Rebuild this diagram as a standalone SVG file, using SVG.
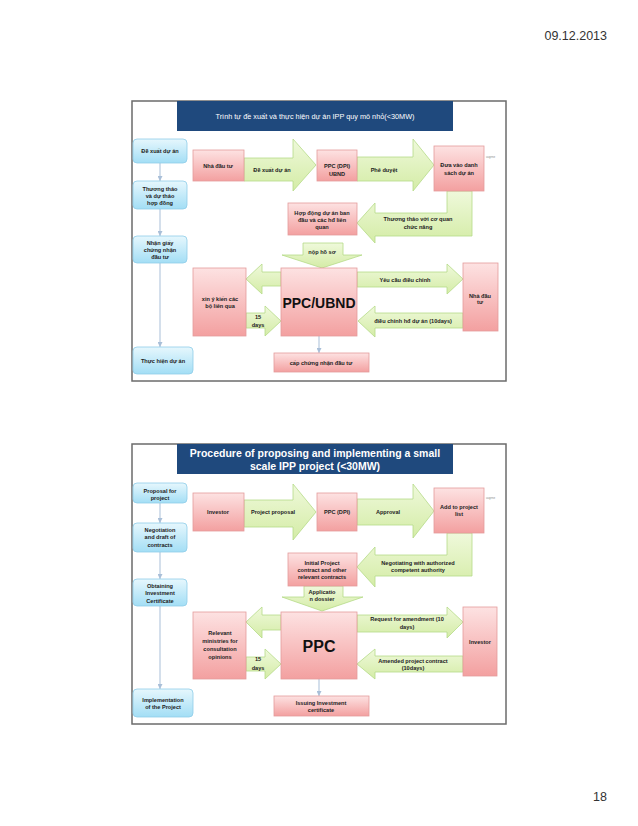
<svg xmlns="http://www.w3.org/2000/svg" width="638" height="826" viewBox="0 0 638 826">
<defs>
<linearGradient id="pink" x1="0" y1="0" x2="0" y2="1"><stop offset="0" stop-color="#fde2e2"/><stop offset="1" stop-color="#f3a0a0"/></linearGradient>
<linearGradient id="blue" x1="0" y1="0" x2="0" y2="1"><stop offset="0" stop-color="#e6f7fd"/><stop offset="1" stop-color="#a3def5"/></linearGradient>
<linearGradient id="green" x1="0" y1="0" x2="0" y2="1"><stop offset="0" stop-color="#eff9db"/><stop offset="1" stop-color="#d4eca6"/></linearGradient>
<marker id="ah" viewBox="0 0 6 6" refX="6" refY="3" markerWidth="5" markerHeight="5" orient="auto"><path d="M0,0 L6,3 L0,6 z" fill="#a9bfd8"/></marker>
<style>
.frame{fill:#fff;stroke:#6b6b6b;stroke-width:1.5}
.bar{fill:#1f497d}
.pink{fill:url(#pink);stroke:#e39c9c;stroke-width:0.8}
.blue{fill:url(#blue);stroke:#8fcde8;stroke-width:0.8}
.arr{fill:url(#green);stroke:#b5da88;stroke-width:0.8}
.ln{stroke:#a9bfd8;stroke-width:1;fill:none;marker-end:url(#ah)}
text{font-family:"Liberation Sans",Arial,sans-serif;text-anchor:middle;fill:#222}
.t{font-size:5.6px;font-weight:bold}
.tiny{font-size:3px;fill:#888;text-anchor:start}
.big{font-size:15px;font-weight:bold;fill:#111}
.hd{fill:#fff}
</style>
</defs>
<rect width="638" height="826" fill="#fff"/>
<text x="607" y="40" style="font-size:12.5px;text-anchor:end;fill:#333">09.12.2013</text>
<text x="607" y="801" style="font-size:12.5px;text-anchor:end;fill:#333">18</text>

<!-- Slide 1 -->
<g id="slide1">
<rect class="frame" x="132" y="101" width="374" height="280"/>
<rect class="bar" x="177" y="101" width="276" height="30"/>
<text class="hd" x="315" y="119" style="font-size:7.3px">Trình tự đề xuất và thực hiện dự án IPP quy mô nhỏ(&lt;30MW)</text>
</g>

<g id="connectors1">
<line class="ln" x1="160" y1="163" x2="160" y2="181"/>
<line class="ln" x1="160" y1="209" x2="160" y2="236"/>
<line class="ln" x1="160" y1="263" x2="160" y2="347"/>
<line class="ln" x1="319" y1="336" x2="319" y2="353"/>
<g id="a1-1"><polygon class="arr" points="244,158 293,158 293,139 316,165 293,191 293,181 244,181"/><text class="t" x="272" y="172">Đề xuất dự án</text></g>
<g id="a1-2"><polygon class="arr" points="357,157 413,157 413,139 434,165 413,191 413,181 357,181"/><text class="t" x="384" y="172">Phê duyệt</text></g>
<g id="a1-3"><polygon class="arr" points="447,191 472,191 472,236 375,236 375,243 357,223 375,203 375,213 447,213"/><text class="t" x="418" y="221">Thương thảo với cơ quan</text><text class="t" x="418" y="229">chức năng</text></g>
<g id="a1-4"><polygon class="arr" points="303,243 343,243 343,255 362,255 322,268 282,255 303,255"/><text class="t" x="322" y="254">nộp hồ sơ</text></g>
<g id="a1-5"><polygon class="arr" points="281,272 262,272 262,264 246,279 262,294 262,286 281,286"/></g>
<g id="a1-6"><polygon class="arr" points="246,313 265,313 265,306 281,321 265,336 265,328 246,328"/><text class="t" x="258" y="319">15</text><text class="t" x="258" y="327">days</text></g>
<g id="a1-7"><polygon class="arr" points="357,272 447,272 447,264 463,279 447,294 447,287 357,287"/><text class="t" x="405" y="282">Yêu cầu điều chỉnh</text></g>
<g id="a1-8"><polygon class="arr" points="463,313 375,313 375,306 358,321 375,337 375,328 463,328"/><text class="t" x="413" y="323">điều chỉnh hđ dự án (10days)</text></g>
</g>

<g id="n1-dexuat"><rect class="blue" x="133" y="139" width="54" height="24" rx="4"/><text class="t" x="160" y="153">Đề xuất dự án</text></g>
<g id="n1-thuongthao"><rect class="blue" x="133" y="181" width="54" height="28" rx="4"/><text class="t" x="160" y="191">Thương thảo</text><text class="t" x="160" y="198">và dự thảo</text><text class="t" x="160" y="205">hợp đồng</text></g>
<g id="n1-nhangiay"><rect class="blue" x="133" y="236" width="54" height="27" rx="4"/><text class="t" x="160" y="245">Nhận giấy</text><text class="t" x="160" y="252">chứng nhận</text><text class="t" x="160" y="259">đầu tư</text></g>
<g id="n1-thuchien"><rect class="blue" x="133" y="347" width="60" height="27" rx="4"/><text class="t" x="163" y="363">Thực hiện dự án</text></g>
<g id="n1-nhadautu"><rect class="pink" x="193" y="150" width="51" height="31"/><text class="t" x="218" y="168">Nhà đầu tư</text></g>
<g id="n1-ppcdpi"><rect class="pink" x="317" y="150" width="40" height="31"/><text class="t" x="337" y="168">PPC (DPI)</text><text class="t" x="337" y="176">UBND</text></g>
<g id="n1-duavao"><rect class="pink" x="434" y="146" width="50" height="45"/><text class="t" x="459" y="167">Đưa vào danh</text><text class="t" x="459" y="175">sách dự án</text><text class="tiny" x="486" y="158">uuyrne</text></g>
<g id="n1-hopdong"><rect class="pink" x="288" y="203" width="69" height="32"/><text class="t" x="322" y="215">Hợp động dự án ban</text><text class="t" x="322" y="222">đầu và các hđ liên</text><text class="t" x="322" y="229">quan</text></g>
<g id="n1-ppcubnd"><rect class="pink" x="281" y="268" width="76" height="68"/><text class="big" x="319" y="308" style="font-size:14px">PPC/UBND</text></g>
<g id="n1-xinykien"><rect class="pink" x="193" y="268" width="53" height="68"/><text class="t" x="220" y="301">xin ý kiến các</text><text class="t" x="220" y="308">bộ liên qua</text></g>
<g id="n1-nhadautu2"><rect class="pink" x="463" y="263" width="35" height="68"/><text class="t" x="480" y="298">Nhà đầu</text><text class="t" x="480" y="304">tư</text></g>
<g id="n1-capchung"><rect class="pink" x="274" y="353" width="95" height="19"/><text class="t" x="321" y="365">cấp chứng nhận đầu tư</text></g>

<!-- Slide 2 -->
<g id="slide2">
<rect class="frame" x="132" y="444" width="374" height="280"/>
<rect class="bar" x="177" y="444" width="276" height="30"/>
<text class="hd" x="315" y="457" style="font-size:10.5px;font-weight:bold">Procedure of proposing and implementing a small</text>
<text class="hd" x="315" y="470" style="font-size:10.5px;font-weight:bold">scale IPP project (&lt;30MW)</text>
</g>

<g id="connectors2">
<line class="ln" x1="160" y1="503" x2="160" y2="523"/>
<line class="ln" x1="160" y1="552" x2="160" y2="579"/>
<line class="ln" x1="160" y1="606" x2="160" y2="689"/>
<line class="ln" x1="319" y1="679" x2="319" y2="696"/>
<g id="a2-1"><polygon class="arr" points="244,500 293,500 293,484 316,512 293,540 293,527 244,527"/><text class="t" x="273" y="514">Project proposal</text></g>
<g id="a2-2"><polygon class="arr" points="357,499 413,499 413,484 434,511 413,538 413,525 357,525"/><text class="t" x="388" y="514">Approval</text></g>
<g id="a2-3"><polygon class="arr" points="447,533 472,533 472,576 375,576 375,587 357,567 375,547 375,555 447,555"/><text class="t" x="418" y="565">Negotiating with authorized</text><text class="t" x="418" y="572">competent authority</text></g>
<g id="a2-4"><polygon class="arr" points="304,586 343,586 343,597 363,597 322,611 282,597 304,597"/><text class="t" x="322" y="594">Applicatio</text><text class="t" x="322" y="601">n dossier</text></g>
<g id="a2-5"><polygon class="arr" points="281,615 262,615 262,607 246,622 262,638 262,630 281,630"/></g>
<g id="a2-6"><polygon class="arr" points="246,657 265,657 265,649 281,664 265,679 265,671 246,671"/><text class="t" x="258" y="661">15</text><text class="t" x="258" y="670">days</text></g>
<g id="a2-7"><polygon class="arr" points="357,615 447,615 447,607 463,622 447,638 447,632 357,632"/><text class="t" x="407" y="621">Request for amendment (10</text><text class="t" x="407" y="629">days)</text></g>
<g id="a2-8"><polygon class="arr" points="463,656 375,656 375,649 357,664 375,679 375,672 463,672"/><text class="t" x="413" y="663">Amended project contract</text><text class="t" x="413" y="670">(10days)</text></g>
</g>

<g id="n2-proposal"><rect class="blue" x="133" y="483" width="54" height="20" rx="4"/><text class="t" x="160" y="493">Proposal for</text><text class="t" x="160" y="500">project</text></g>
<g id="n2-negotiation"><rect class="blue" x="133" y="523" width="54" height="29" rx="4"/><text class="t" x="160" y="532">Negotiation</text><text class="t" x="160" y="539">and draft of</text><text class="t" x="160" y="547">contracts</text></g>
<g id="n2-obtaining"><rect class="blue" x="133" y="579" width="54" height="27" rx="4"/><text class="t" x="160" y="588">Obtaining</text><text class="t" x="160" y="595">Investment</text><text class="t" x="160" y="603">Certificate</text></g>
<g id="n2-implementation"><rect class="blue" x="133" y="689" width="60" height="28" rx="4"/><text class="t" x="163" y="702">Implementation</text><text class="t" x="163" y="709">of the Project</text></g>
<g id="n2-investor"><rect class="pink" x="193" y="493" width="51" height="38"/><text class="t" x="218" y="514">Investor</text></g>
<g id="n2-ppcdpi"><rect class="pink" x="317" y="493" width="40" height="38"/><text class="t" x="337" y="514">PPC (DPI)</text></g>
<g id="n2-addto"><rect class="pink" x="434" y="488" width="50" height="45"/><text class="t" x="459" y="509">Add to project</text><text class="t" x="459" y="516">list</text><text class="tiny" x="486" y="499">uuyrne</text></g>
<g id="n2-initial"><rect class="pink" x="288" y="553" width="69" height="33"/><text class="t" x="322" y="565">Initial Project</text><text class="t" x="322" y="572">contract and other</text><text class="t" x="322" y="579">relevant contracts</text></g>
<g id="n2-ppc"><rect class="pink" x="281" y="612" width="76" height="67"/><text class="big" x="319" y="652" style="font-size:16px">PPC</text></g>
<g id="n2-relevant"><rect class="pink" x="193" y="612" width="53" height="67"/><text class="t" x="220" y="635">Relevant</text><text class="t" x="220" y="643">ministries for</text><text class="t" x="220" y="651">consultation</text><text class="t" x="220" y="659">opinions</text></g>
<g id="n2-investor2"><rect class="pink" x="463" y="607" width="34" height="69"/><text class="t" x="480" y="644">Investor</text></g>
<g id="n2-issuing"><rect class="pink" x="274" y="696" width="95" height="20"/><text class="t" x="321" y="705">Issuing Investment</text><text class="t" x="321" y="712">certificate</text></g>
</svg>
